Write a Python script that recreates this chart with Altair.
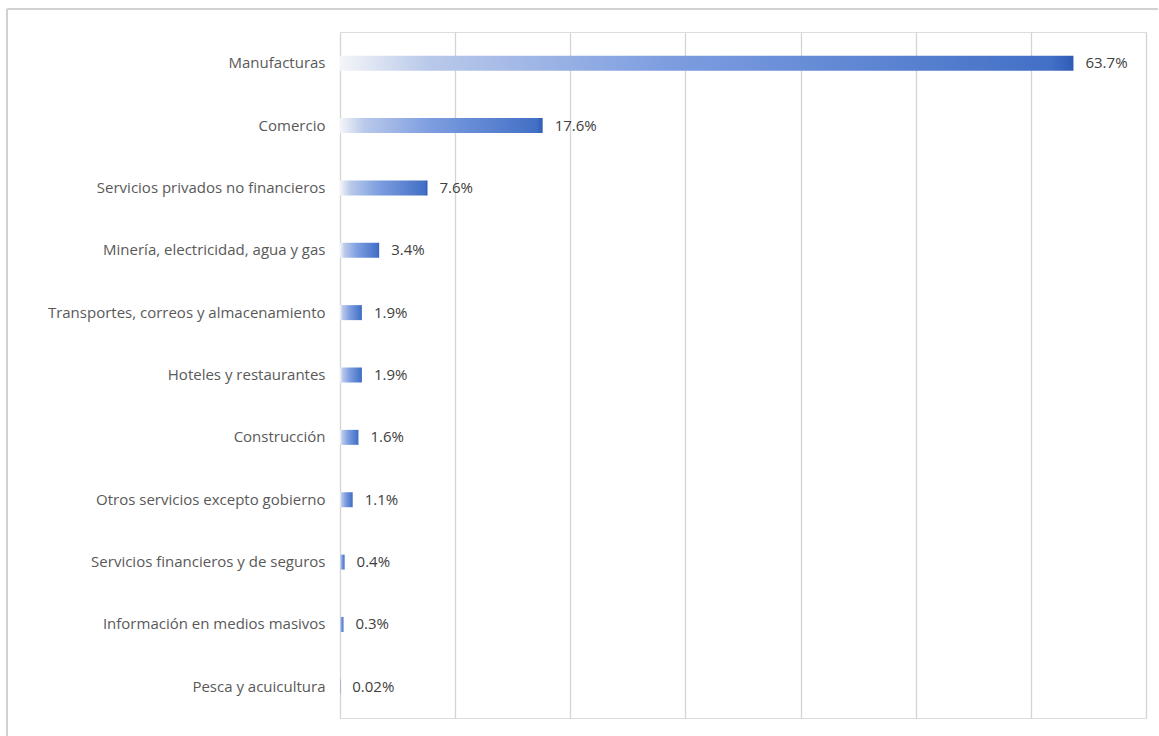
import altair as alt
import pandas as pd

categories = [
    "Manufacturas",
    "Comercio",
    "Servicios privados no financieros",
    "Minería, electricidad, agua y gas",
    "Transportes, correos y almacenamiento",
    "Hoteles y restaurantes",
    "Construcción",
    "Otros servicios excepto gobierno",
    "Servicios financieros y de seguros",
    "Información en medios masivos",
    "Pesca y acuicultura",
]
values = [63.7, 17.6, 7.6, 3.4, 1.9, 1.9, 1.6, 1.1, 0.4, 0.3, 0.02]
labels = ["63.7%", "17.6%", "7.6%", "3.4%", "1.9%", "1.9%", "1.6%", "1.1%", "0.4%", "0.3%", "0.02%"]
x_ticks = [0, 10, 20, 30, 40, 50, 60, 70]

df = pd.DataFrame({"cat": categories, "val": values, "lab": labels})

W, H = 806, 686
FONT = "Open Sans"

grad = alt.LinearGradient(
    gradient="linear",
    x1=0, x2=1, y1=0, y2=0,
    stops=[
        alt.GradientStop(color="#f4f5f8", offset=0),
        alt.GradientStop(color="#b9c9ea", offset=0.12),
        alt.GradientStop(color="#7d9de0", offset=0.45),
        alt.GradientStop(color="#4270c6", offset=0.97),
        alt.GradientStop(color="#2f5bb5", offset=1),
    ],
)

base = alt.Chart(df)

y_enc = alt.Y(
    "cat:N",
    sort=categories,
    scale=alt.Scale(paddingInner=0, paddingOuter=0),
    axis=alt.Axis(
        title=None, domain=False, ticks=False, labelPadding=15,
        labelFont=FONT, labelFontSize=15, labelColor="#595959", labelLimit=400,
    ),
)
x_enc = alt.X(
    "val:Q",
    scale=alt.Scale(domain=[0, 70], nice=False),
    axis=alt.Axis(
        title=None, values=x_ticks, labels=False, ticks=False, domain=False,
        grid=True, gridColor="#d4d4d4", gridWidth=1.3,
    ),
)

bars = base.mark_bar(color=grad, size=15).encode(x=x_enc, y=y_enc)

text = base.mark_text(
    align="left", baseline="middle", dx=12, font=FONT, fontSize=15, color="#404040"
).encode(x="val:Q", y=alt.Y("cat:N", sort=categories), text="lab:N")

frame_top = base.mark_rule(color="#d0d0d0", strokeWidth=1.5).encode(
    x=alt.value(-333), x2=alt.value(818), y=alt.value(-23)
)
frame_left = base.mark_rule(color="#d0d0d0", strokeWidth=1.5).encode(
    x=alt.value(-333), y=alt.value(-23), y2=alt.value(704)
)

chart = (
    alt.layer(frame_top, frame_left, bars, text)
    .properties(width=W, height=H, autosize=alt.AutoSizeParams(type="none"),
                padding={"left": 340, "top": 32, "right": 13, "bottom": 18})
    .configure_view(stroke=None)
    .configure(background="white")
)

chart.save("out.html", embed_options={"renderer": "svg", "actions": False})
